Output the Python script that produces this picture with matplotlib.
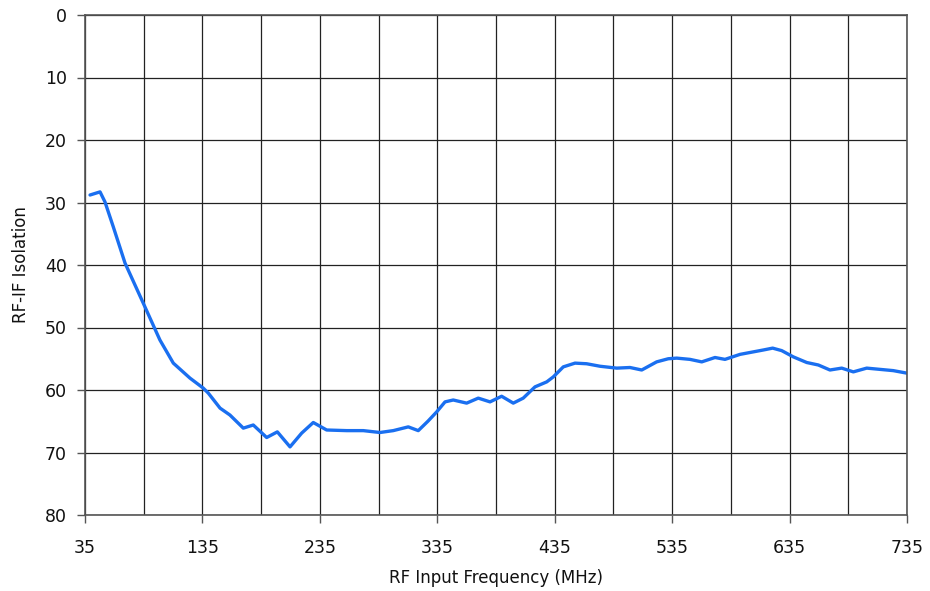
import matplotlib
matplotlib.use("Agg")
import matplotlib.pyplot as plt
from matplotlib.ticker import MultipleLocator, FixedLocator

freq = [39.3, 47.8, 52, 59.1, 69.1, 84.6, 98.8, 110.2, 124.4, 135.7, 140, 150,
        158.4, 169.8, 178.3, 189.7, 198.8, 209.6, 219.5, 229.4, 240.8, 257.9,
        272, 286.2, 297.5, 310.3, 318.8, 327, 334.5, 341.6, 348.6, 360, 369.9,
        379.9, 389.8, 399.7, 408.2, 418.2, 428.2, 433.8, 442.3, 452.3, 462.2,
        473.6, 487.8, 499.1, 509.1, 521.8, 531.7, 538.9, 550.2, 560.2, 571.5,
        580, 592.8, 604.1, 612.6, 620.6, 628.3, 638.2, 649.6, 659.5, 669.4,
        679.4, 689.3, 700.7, 712, 723.3, 734.8]
isolation = [28.8, 28.3, 29.9, 33.9, 39.7, 46.1, 52, 55.7, 58.1, 59.7, 60.5, 62.9,
             64, 66.1, 65.6, 67.6, 66.7, 69.1, 66.9, 65.2, 66.4, 66.5,
             66.5, 66.8, 66.5, 65.9, 66.5, 65.0, 63.5, 61.9, 61.6, 62.1, 61.3,
             61.9, 61.0, 62.1, 61.3, 59.5, 58.7, 57.9, 56.3, 55.7, 55.8,
             56.2, 56.5, 56.4, 56.8, 55.5, 55.0, 54.9, 55.1, 55.5, 54.8,
             55.1, 54.3, 53.9, 53.6, 53.3, 53.7, 54.7, 55.6, 56.0, 56.8,
             56.5, 57.1, 56.5, 56.7, 56.9, 57.3]

x_ticks = [35, 135, 235, 335, 435, 535, 635, 735]
y_ticks = [0, 10, 20, 30, 40, 50, 60, 70, 80]

plt.rcParams['font.family'] = ['DejaVu Sans']
fig = plt.figure(figsize=(9.3, 5.91), dpi=100)
ax = fig.add_axes([85/930, 1-515/591, (907-85)/930, (515-15)/591])

ax.plot(freq, isolation, color='#1a6ff0', lw=2.4, solid_capstyle='round',
        solid_joinstyle='round')

ax.set_xlim(35, 735)
ax.set_ylim(80, 0)
ax.xaxis.set_major_locator(FixedLocator(x_ticks))
ax.xaxis.set_minor_locator(MultipleLocator(50, offset=35))
ax.yaxis.set_major_locator(FixedLocator(y_ticks))
ax.grid(True, which='both', color='#222222', lw=0.9)
ax.set_axisbelow(True)
ax.tick_params(axis='both', which='major', length=6, width=1, color='#555555',
               labelsize=12.5, labelcolor='#111111')
ax.tick_params(axis='x', which='major', pad=11)
ax.tick_params(axis='y', which='major', pad=7)
ax.tick_params(axis='x', which='minor', length=0)
for s in ax.spines.values():
    s.set_color('#555555')
    s.set_linewidth(1.2)

ax.set_xlabel('RF Input Frequency (MHz)', fontsize=12, color='#111111', labelpad=9)
ax.set_ylabel('RF-IF Isolation', fontsize=12, color='#111111', labelpad=11)

fig.savefig('out.png', dpi=100)
